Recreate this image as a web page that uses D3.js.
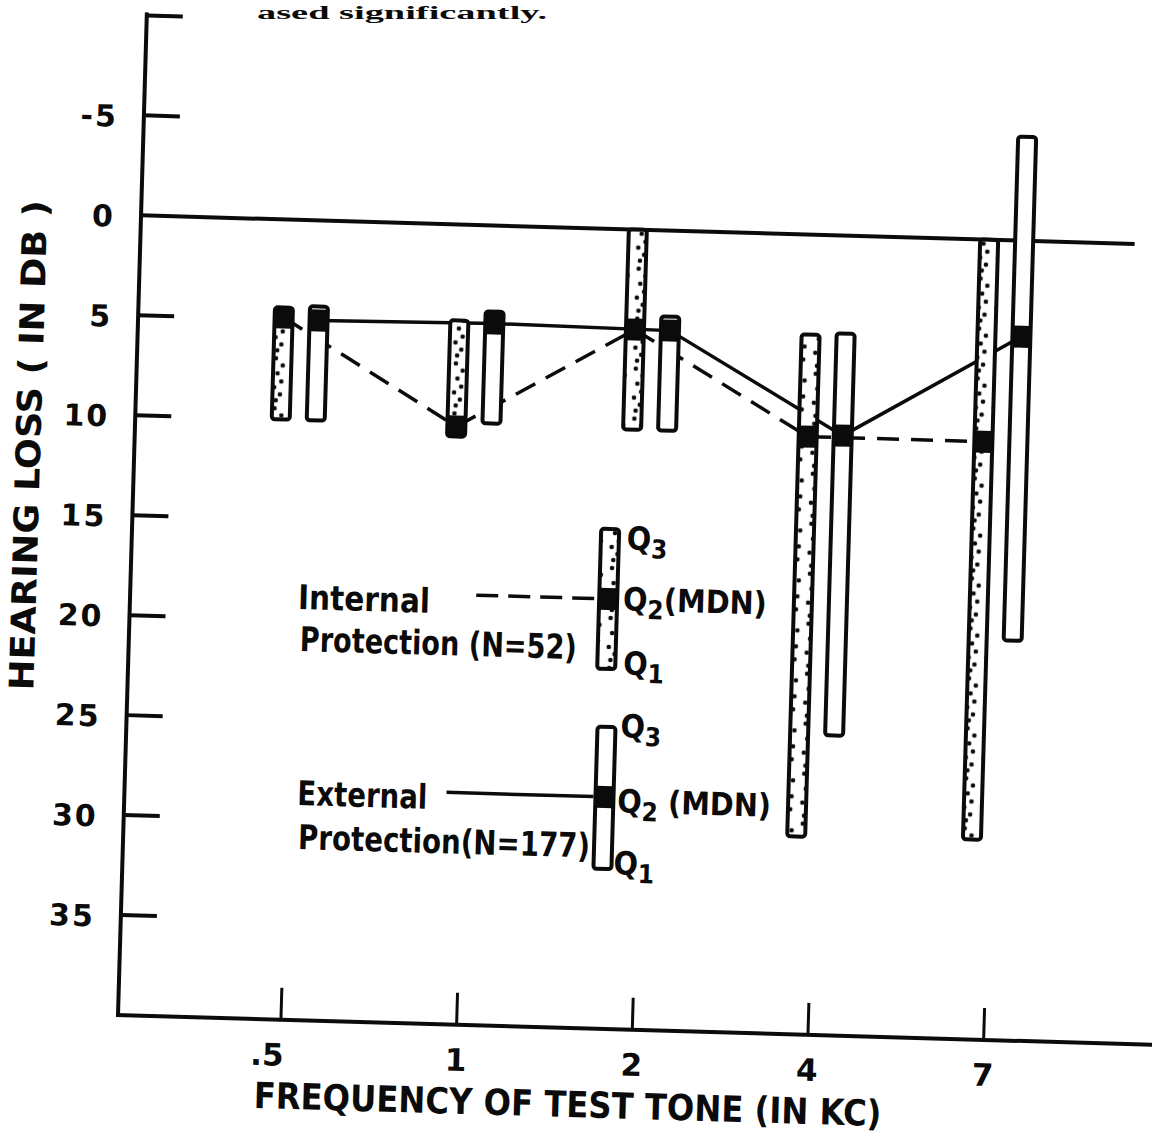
<!DOCTYPE html>
<html><head><meta charset="utf-8">
<script src="https://cdn.jsdelivr.net/npm/d3@7"></script>
<style>body{margin:0;background:#fff}svg{display:block}</style>
</head><body>
<svg id="c" width="1152" height="1142"></svg>
<script>
// ---- data (dB hearing loss; Q3 = upper quartile drawn at top, Q1 at bottom) ----
const categories = [".5", "1", "2", "4", "7"];
const internalQ3 = [4.4, 4.8, 0.0, 5.0, 0.0];
const internalMedian = [4.9, 10.1, 5.0, 10.1, 10.1];
const internalQ1 = [10.0, 10.6, 10.0, 30.1, 30.0];
const externalQ3 = [4.3, 4.3, 4.3, 4.9, -5.2];
const externalMedian = [5.0, 4.9, 5.0, 10.0, 4.8];
const externalQ1 = [10.0, 9.9, 10.0, 25.0, 20.0];
const yTickValues = [-10, -5, 5, 10, 15, 20, 25, 30, 35];
const yTickLabels = ["-5", "0", "5", "10", "15", "20", "25", "30", "35"];
const yLabelValues = [-5, 0, 5, 10, 15, 20, 25, 30, 35];
const legendInternal = [15.0, 18.5, 22.0];   // Q3, Q2, Q1
const legendExternal = [24.9, 28.4, 32.0];

const ink = "#0b0b0b";
const svg = d3.select("#c");

// stipple pattern for internal protection boxes
const defs = svg.append("defs");
const pat = defs.append("pattern").attr("id", "dots")
  .attr("patternUnits", "userSpaceOnUse").attr("width", 18).attr("height", 50);
pat.append("rect").attr("width", 18).attr("height", 50).attr("fill", "#fff");
[[5,4],[12,11],[7,19],[11,27],[4,33],[10,40],[6,46]].forEach(([x,y]) =>
  pat.append("circle").attr("cx", x).attr("cy", y).attr("r", 2.3).attr("fill", ink));

// page text at the top
svg.append("text").attr("x", 547).attr("y", 19).attr("text-anchor", "end")
  .attr("font-family", "Liberation Serif").attr("font-weight", "bold")
  .attr("font-size", 18).attr("textLength", 290).attr("lengthAdjust", "spacingAndGlyphs")
  .attr("fill", ink).text("ased significantly.");

// whole figure is slightly rotated in the scan
const g = svg.append("g").attr("transform", "rotate(1.65,118,1015)");

const y = d3.scaleLinear().domain([-10, 40]).range([15, 1015]);
const x = d3.scalePoint().domain(categories).range([281, 984]);
const offInt = -17.5, offExt = 17.5, boxW = 18;

const font = "'DejaVu Sans Condensed', 'DejaVu Sans', sans-serif";

// y axis
g.append("line").attr("x1", 118).attr("x2", 118).attr("y1", y(-10) - 3).attr("y2", y(40))
  .attr("stroke", ink).attr("stroke-width", 4);
g.selectAll(".yt").data(yTickValues).join("line")
  .attr("x1", 118).attr("x2", 154).attr("y1", d => y(d)).attr("y2", d => y(d))
  .attr("stroke", ink).attr("stroke-width", 4);
g.selectAll(".yl").data(yLabelValues).join("text")
  .attr("x", 92).attr("y", d => y(d) + 12).attr("text-anchor", "end")
  .attr("font-family", "'DejaVu Sans', sans-serif").attr("font-weight", "bold")
  .attr("font-size", 30).attr("letter-spacing", 2).attr("fill", ink)
  .text((d, i) => yTickLabels[i]);
// zero reference line
g.append("line").attr("x1", 118).attr("x2", 1112).attr("y1", y(0)).attr("y2", y(0))
  .attr("stroke", ink).attr("stroke-width", 4);

// x axis
g.append("line").attr("x1", 116).attr("x2", 1220).attr("y1", y(40)).attr("y2", y(40))
  .attr("stroke", ink).attr("stroke-width", 4);
g.selectAll(".xt").data(categories).join("line")
  .attr("x1", d => x(d)).attr("x2", d => x(d)).attr("y1", y(40) - 32).attr("y2", y(40))
  .attr("stroke", ink).attr("stroke-width", 3);
g.selectAll(".xl").data(categories).join("text")
  .attr("x", d => x(d)).attr("dx", d => d.startsWith(".") ? -13 : 0)
  .attr("y", 1061).attr("text-anchor", "middle")
  .attr("font-family", "'DejaVu Sans', sans-serif").attr("font-weight", "bold")
  .attr("font-size", 31).attr("fill", ink).text(d => d);

// axis titles
g.append("text").attr("x", 570).attr("y", 1104).attr("text-anchor", "middle")
  .attr("font-family", font).attr("font-weight", "bold").attr("font-size", 36)
  .attr("textLength", 628).attr("lengthAdjust", "spacingAndGlyphs").attr("fill", ink)
  .text("FREQUENCY OF TEST TONE (IN KC)");
g.append("text").attr("transform", "translate(24,448) rotate(-90)").attr("text-anchor", "middle")
  .attr("font-family", font).attr("font-weight", "bold").attr("font-size", 34)
  .attr("textLength", 490).attr("lengthAdjust", "spacingAndGlyphs").attr("fill", ink)
  .text("HEARING LOSS ( IN DB )");

// connecting lines (drawn first, so boxes cover them)
const idx = d3.range(categories.length);
const lineInt = d3.line().x(i => x(categories[i]) + offInt).y(i => y(internalMedian[i]));
const lineExt = d3.line().x(i => x(categories[i]) + offExt).y(i => y(externalMedian[i]));
g.append("path").attr("d", lineExt(idx)).attr("fill", "none")
  .attr("stroke", ink).attr("stroke-width", 3.5);
g.append("path").attr("d", lineInt(idx)).attr("fill", "none")
  .attr("stroke", ink).attr("stroke-width", 3.5).attr("stroke-dasharray", "22,12");

function drawBox(parent, cx, q3, med, q1, dotted) {
  const top = y(q3), bot = y(q1);
  parent.append("rect").attr("x", cx - boxW / 2).attr("y", top)
    .attr("width", boxW).attr("height", bot - top).attr("rx", 3)
    .attr("fill", dotted ? "url(#dots)" : "#fff").attr("stroke", ink).attr("stroke-width", 4);
  const bt = Math.max(top, y(med) - 11);
  const bb = Math.min(bot, y(med) + 11);
  parent.append("rect").attr("x", cx - boxW / 2 - 1).attr("y", bt)
    .attr("width", boxW + 2).attr("height", bb - bt).attr("rx", 2).attr("fill", ink);
}

idx.forEach(i => {
  drawBox(g, x(categories[i]) + offInt, internalQ3[i], internalMedian[i], internalQ1[i], true);
  drawBox(g, x(categories[i]) + offExt, externalQ3[i], externalMedian[i], externalQ1[i], false);
});

// legend
const lg = g.append("g");
const lbx1 = 596, lbx2 = 598;
lg.append("line").attr("x1", 464).attr("x2", lbx1 - 11).attr("y1", y(legendInternal[1])).attr("y2", y(legendInternal[1]))
  .attr("stroke", ink).attr("stroke-width", 3.5).attr("stroke-dasharray", "22,10");
lg.append("line").attr("x1", 440).attr("x2", lbx2 - 11).attr("y1", y(legendExternal[1])).attr("y2", y(legendExternal[1]))
  .attr("stroke", ink).attr("stroke-width", 3.5);
drawBox(lg, lbx1, legendInternal[0], legendInternal[1], legendInternal[2], true);
drawBox(lg, lbx2, legendExternal[0], legendExternal[1], legendExternal[2], false);

function txt(xp, yp, s, len) {
  const t = lg.append("text").attr("x", xp).attr("y", yp)
    .attr("font-family", font).attr("font-weight", "bold").attr("font-size", 34).attr("fill", ink).text(s);
  if (len) t.attr("textLength", len).attr("lengthAdjust", "spacingAndGlyphs");
  return t;
}
txt(286, 604, "Internal", 132);
txt(289, 646, "Protection (N=52)", 277);
txt(291, 800, "External", 130);
txt(293, 844, "Protection(N=177)", 292);

function qlabel(xp, yp, sub, rest) {
  const t = lg.append("text").attr("x", xp).attr("y", yp)
    .attr("font-family", font).attr("font-weight", "bold").attr("font-size", 32).attr("fill", ink);
  t.append("tspan").text("Q");
  t.append("tspan").attr("dy", 8).attr("font-size", 26).text(sub);
  if (rest) t.append("tspan").attr("dy", -8).text(rest);
}
qlabel(613, 535, "3");
qlabel(611, 596, "2", "(MDN)");
qlabel(613, 660, "1");
qlabel(612, 723, "3");
qlabel(611, 798, "2", " (MDN)");
qlabel(609, 860, "1");
</script>
</body></html>
